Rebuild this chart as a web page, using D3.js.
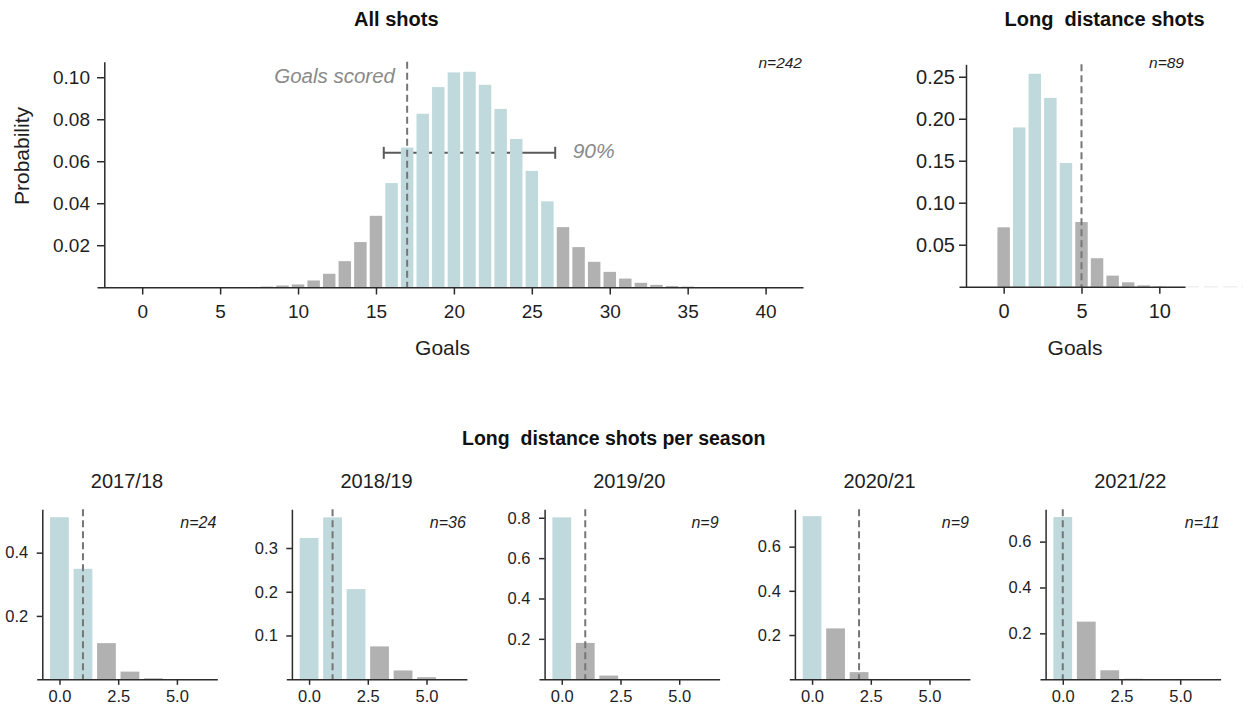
<!DOCTYPE html>
<html><head><meta charset="utf-8">
<script src="https://cdn.jsdelivr.net/npm/d3@7"></script>
<style>
body{margin:0;background:#fff;}
svg{display:block;font-family:"Liberation Sans",Arial,Helvetica,sans-serif;}
text{white-space:pre;}
</style></head><body>
<svg id="chart" width="1243" height="707"></svg>
<script>
// ---------------- data ----------------
const allGoals = [7,8,9,10,11,12,13,14,15,16,17,18,19,20,21,22,23,24,25,26,27,28,29,30,31,32,33,34,35,36,37];
const allProb  = [0.0001,0.0003,0.0008,0.0013,0.0032,0.0064,0.0124,0.0215,0.0340,0.0496,0.0665,0.0826,0.0953,0.1023,0.1026,0.0964,0.0849,0.0706,0.0554,0.0409,0.0286,0.0191,0.0121,0.0073,0.0041,0.0021,0.0011,0.0006,0.0003,0.0001,0.0001];
const allInterval = [16, 26];
const allObserved = 17;
const allN = 242;
const allTicksX = [0,5,10,15,20,25,30,35,40];
const allTicksY = [0.02,0.04,0.06,0.08,0.10];
const allBracketLevel = 0.064;

const longGoals = [0,1,2,3,4,5,6,7,8,9,10,11];
const longProb  = [0.0707,0.1896,0.2535,0.2248,0.1473,0.0770,0.0339,0.0132,0.0052,0.0016,0.0004,0.0001];
const longInterval = [1, 4];
const longObserved = 5;
const longN = 89;
const longTicksX = [0,5,10];
const longTicksY = [0.05,0.10,0.15,0.20,0.25];

const seasons = ["2017/18","2018/19","2019/20","2020/21","2021/22"];
const seasonGoals = [0,1,2,3,4,5,6];
const prob1718 = [0.512,0.349,0.114,0.024,0.003,0.0003];
const prob1819 = [0.323,0.370,0.206,0.075,0.020,0.0046,0.0005];
const prob1920 = [0.802,0.180,0.018,0.001];
const prob2021 = [0.738,0.230,0.032,0.001];
const prob2122 = [0.7075,0.251,0.039,0.002];
const seasonObserved = [1,1,1,2,0];
const seasonN = [24,36,9,9,11];
const seasonInterval = [[0,1],[0,2],[0,0],[0,0],[0,0]];
const seasonTicksX = [0,2.5,5];
const seasonTicksY = [[0.2,0.4],[0.1,0.2,0.3],[0.2,0.4,0.6,0.8],[0.2,0.4,0.6],[0.2,0.4,0.6]];

// ---------------- drawing ----------------
const svg = d3.select("#chart");
const BLUE = "#bfd9dd", GRAY = "#b1b1b1", AXIS = "#2b2b2b", TXT = "#1e1e1e", NOTE = "#8a8a8a";

function panel(o) {
  const g = svg.append("g");
  const x = d3.scaleLinear().domain(o.xDomain).range([o.x0, o.x1]);
  const y = d3.scaleLinear().domain([0, o.yMax]).range([o.base, o.top]);
  const data = o.goals.filter((d,i) => i < o.prob.length).map((d,i) => ({g:d, p:o.prob[i]}));
  const bw = x(0.8) - x(0);

  // interval bracket behind bars
  if (o.bracket != null) {
    const by = y(o.bracket);
    const bx0 = x(o.interval[0]-0.5), bx1 = x(o.interval[1]+0.5);
    const bg = g.append("g").attr("stroke","#5a5a5a").attr("stroke-width",2);
    bg.append("line").attr("x1",bx0).attr("x2",bx1).attr("y1",by).attr("y2",by);
    bg.append("line").attr("x1",bx0).attr("x2",bx0).attr("y1",by-6).attr("y2",by+6);
    bg.append("line").attr("x1",bx1).attr("x2",bx1).attr("y1",by-6).attr("y2",by+6);
  }

  g.append("g").selectAll("rect").data(data).join("rect")
    .attr("x", d => x(d.g) - bw/2)
    .attr("width", bw)
    .attr("y", d => y(d.p))
    .attr("height", d => y(0) - y(d.p))
    .attr("fill", d => (d.g >= o.interval[0] && d.g <= o.interval[1]) ? BLUE : GRAY);

  // observed dashed line
  g.append("line")
    .attr("x1", x(o.observed)).attr("x2", x(o.observed))
    .attr("y1", o.top).attr("y2", o.base)
    .attr("stroke", "#767676").attr("stroke-width", 2).attr("stroke-dasharray", "7,4");

  // axes
  const ax = g.append("g").attr("transform", `translate(0,${o.base})`)
    .call(d3.axisBottom(x).tickValues(o.ticksX).tickFormat(o.fmtX)
      .tickSize(o.tick).tickSizeOuter(0).tickPadding(o.xPad));
  const ay = g.append("g").attr("transform", `translate(${o.yAxisX},0)`)
    .call(d3.axisLeft(y).tickValues(o.ticksY).tickFormat(o.fmtY)
      .tickSize(o.tick).tickSizeOuter(0).tickPadding(o.yPad));
  [ax, ay].forEach(a => {
    a.select(".domain").attr("stroke", AXIS).attr("stroke-width", 1.5);
    a.selectAll(".tick line").attr("stroke", AXIS).attr("stroke-width", 1.5);
    a.selectAll(".tick text").attr("fill", TXT).style("font-size", o.fs + "px")
      .style("font-family", '"Liberation Sans",Arial,sans-serif');
  });

  // n label
  g.append("text").attr("x", o.x1 - 1).attr("y", o.nY).attr("text-anchor","end")
    .style("font-style","italic").style("font-size", o.nFs + "px").attr("fill", TXT)
    .text("n=" + o.n);
  return {x, y, g};
}

// main panel
const main = panel({
  goals: allGoals, prob: allProb, interval: allInterval, observed: allObserved, n: allN,
  xDomain: [-2.9, 42.4], x0: 97, x1: 803, yAxisX: 104.3, base: 287.2, top: 61.7, yMax: 0.1074,
  ticksX: allTicksX, ticksY: allTicksY, fmtX: d3.format("d"), fmtY: d3.format(".2f"),
  tick: 7.3, xPad: 10.5, yPad: 7, fs: 19, nY: 68.3, nFs: 15.5, bracket: allBracketLevel
});
main.g.append("text").attr("x", 395).attr("y", 83.3).attr("text-anchor","end")
  .style("font-style","italic").style("font-size","20.5px").attr("fill", NOTE).text("Goals scored");
main.g.append("text").attr("x", 572.7).attr("y", 158.3)
  .style("font-style","italic").style("font-size","21px").attr("fill", NOTE).text("90%");
svg.append("text").attr("x", 396.3).attr("y", 25.7).attr("text-anchor","middle")
  .style("font-weight","bold").style("font-size","20px").attr("fill","#111").text("All shots");
svg.append("text").attr("x", 442.5).attr("y", 355).attr("text-anchor","middle")
  .style("font-size","21px").attr("fill",TXT).text("Goals");
svg.append("text").attr("transform","translate(28.5,156) rotate(-90)").attr("text-anchor","middle")
  .style("font-size","21px").attr("fill",TXT).text("Probability");

// long distance panel
svg.append("line").attr("x1",1185).attr("x2",1243).attr("y1",286.7).attr("y2",286.7)
  .attr("stroke","#f0f0f0").attr("stroke-width",1.5).attr("stroke-dasharray","14,5");
panel({
  goals: longGoals, prob: longProb, interval: longInterval, observed: longObserved, n: longN,
  xDomain: [-2.87, 11.65], x0: 959, x1: 1185, yAxisX: 966, base: 286.7, top: 64.3, yMax: 0.2648,
  ticksX: longTicksX, ticksY: longTicksY, fmtX: d3.format("d"), fmtY: d3.format(".2f"),
  tick: 7, xPad: 10.5, yPad: 4, fs: 20, nY: 68.3, nFs: 15.5, bracket: null
});
svg.append("text").attr("x", 1104.5).attr("y", 26).attr("text-anchor","middle")
  .style("font-weight","bold").style("font-size","20px").attr("fill","#111").text("Long  distance shots");
svg.append("text").attr("x", 1075).attr("y", 355).attr("text-anchor","middle")
  .style("font-size","21px").attr("fill",TXT).text("Goals");

// season panels
svg.append("text").attr("x", 613.7).attr("y", 445).attr("text-anchor","middle")
  .style("font-weight","bold").style("font-size","19.5px").attr("fill","#111").text("Long  distance shots per season");

const seasonProbs = [prob1718, prob1819, prob1920, prob2021, prob2122];
const seasonX0 = [36.7, 286.3, 539, 789.3, 1040];
const seasonYMax = [0.537, 0.3885, 0.842, 0.769, 0.741];
seasons.forEach((s, i) => {
  const x0 = seasonX0[i], x1 = x0 + 180.6;
  panel({
    goals: seasonGoals, prob: seasonProbs[i], interval: seasonInterval[i], observed: seasonObserved[i], n: seasonN[i],
    xDomain: [-0.97, 6.72], x0: x0, x1: x1, yAxisX: x0 + 5.6, base: 679.2, top: 509.3, yMax: seasonYMax[i],
    ticksX: seasonTicksX, ticksY: seasonTicksY[i], fmtX: d3.format(".1f"), fmtY: d3.format(".1f"),
    tick: 5.6, xPad: 5.5, yPad: 8.5, fs: 16.5, nY: 528.3, nFs: 16, bracket: null
  });
  svg.append("text").attr("x", (x0 + x1)/2).attr("y", 488.3).attr("text-anchor","middle")
    .style("font-size","20px").attr("fill",TXT).text(s);
});
</script>
</body></html>
